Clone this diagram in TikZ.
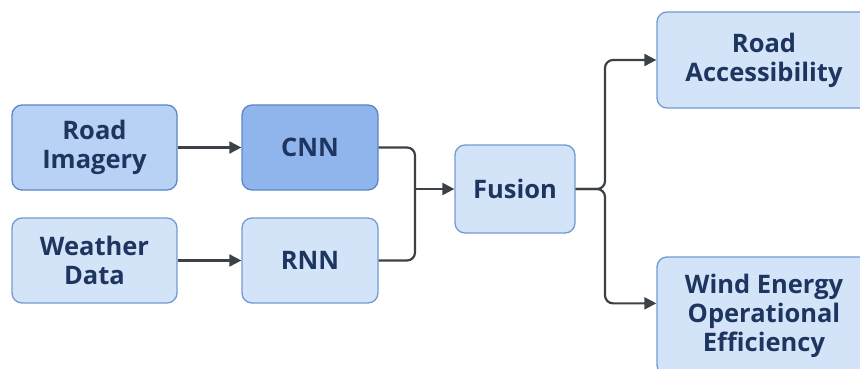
\documentclass[tikz,border=0pt]{standalone}
\usepackage{fontspec}
\setmainfont{Open Sans}
\usetikzlibrary{arrows.meta,calc}
\definecolor{txt}{HTML}{1E3560}
\definecolor{lnc}{HTML}{3C4148}
\definecolor{fmid}{HTML}{B7D2F5}
\definecolor{fdark}{HTML}{90B4EC}
\definecolor{flight}{HTML}{D3E4F8}
\definecolor{bmid}{HTML}{5A86C8}
\definecolor{blight}{HTML}{7399D2}
\tikzset{
  box/.style={draw=blight, fill=flight, line width=1.3pt, rounded corners=10pt,
    align=center, text=txt, font=\fontsize{25.5}{29}\selectfont\bfseries, inner sep=0pt},
  conn/.style={draw=lnc, line width=2.2pt, rounded corners=8pt},
  arr/.style={conn, -{Triangle[length=12pt,width=12pt]}}
}
\begin{document}
\begin{tikzpicture}[x=1pt,y=-1pt]
\useasboundingbox (0,0) rectangle (860,369);
\node[box, fill=fmid, draw=bmid, minimum width=165pt, minimum height=85pt] (road) at (94.5,147.5) {Road\\Imagery};
\node[box, fill=fdark, draw=bmid, minimum width=136pt, minimum height=85pt] (cnn) at (310,147.5) {CNN};
\node[box, minimum width=165pt, minimum height=85pt] (weather) at (94.5,260.5) {Weather\\Data};
\node[box, minimum width=136pt, minimum height=85pt] (rnn) at (310,260.5) {RNN};
\node[box, minimum width=120pt, minimum height=88pt] (fusion) at (515,189) {Fusion};
\node[box, minimum width=214pt, minimum height=96pt] (acc) at (764,60) {Road\\Accessibility};
\node[box, minimum width=214pt, minimum height=118pt] (wind) at (764,316) {Wind Energy\\Operational\\Efficiency};
\coordinate (mx) at (415,189);
\coordinate (sx) at (605,189);
\draw[arr] (road) -- (cnn);
\draw[arr] (weather) -- (rnn);
\draw[conn] (cnn.east) -| (mx);
\draw[conn] (rnn.east) -| (mx);
\draw[arr] (mx) -- (fusion.west);
\draw[arr] (fusion.east) -- (sx) |- (acc.west);
\draw[arr] (fusion.east) -- (sx) |- ([yshift=-47pt]wind.north west);
\end{tikzpicture}
\end{document}
